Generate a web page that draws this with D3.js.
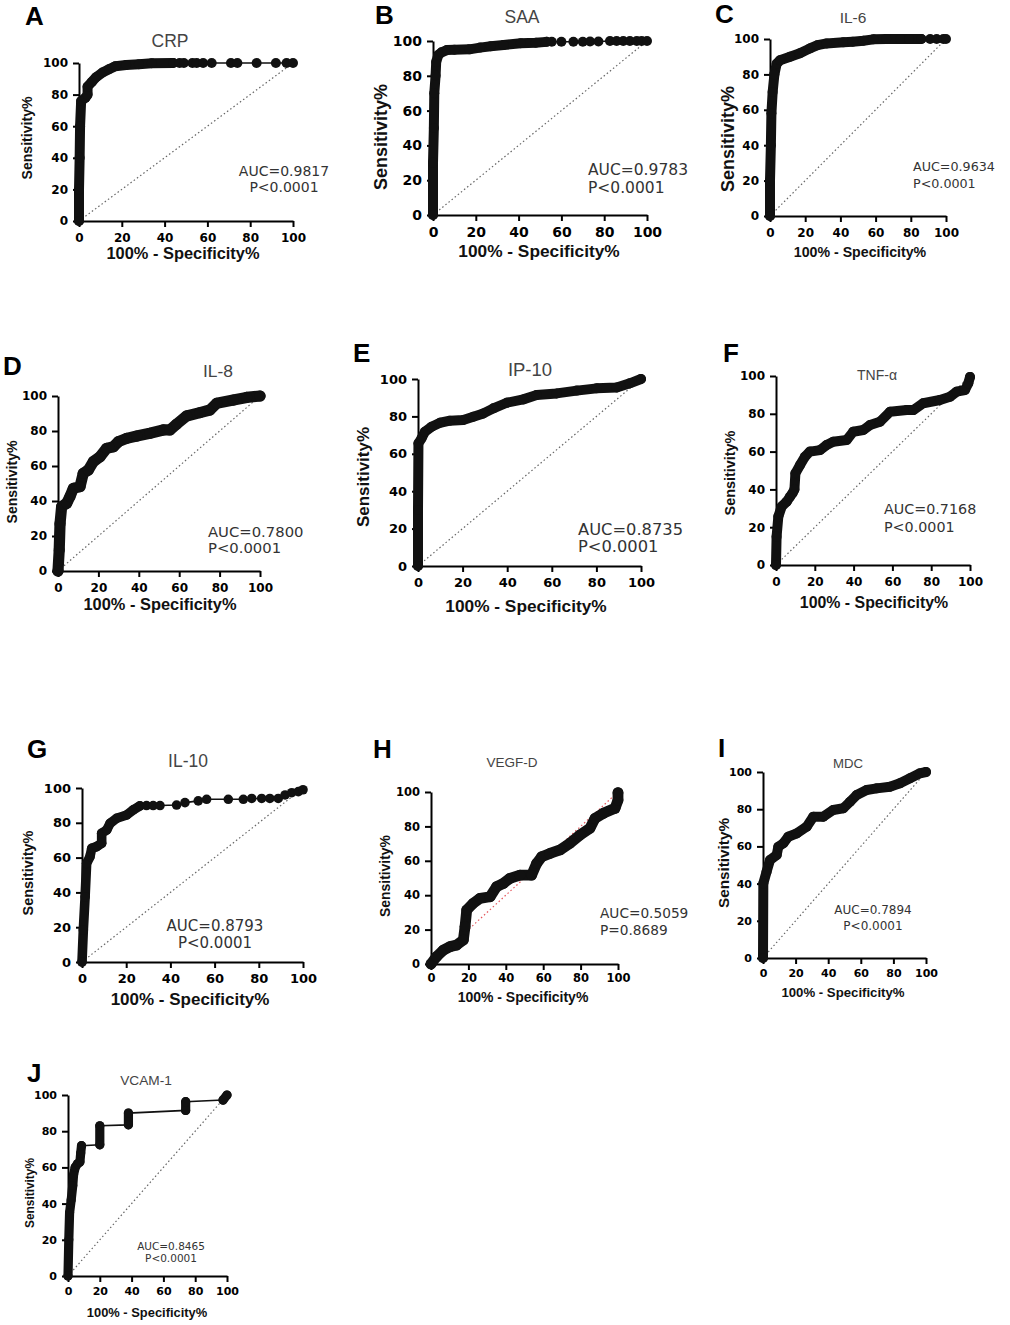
<!DOCTYPE html>
<html>
<head>
<meta charset="utf-8">
<script src="https://cdn.jsdelivr.net/npm/d3@7"></script>
<style>
  body { margin: 0; background: #fff; }
</style>
</head>
<body>
<svg id="fig" width="1010" height="1325"></svg>
<script>
// ---- data (x = 100% - Specificity%, y = Sensitivity%) ----
const panelLetters = ["A", "B", "C", "D", "E", "F", "G", "H", "I", "J"];
const markerNames = ["CRP", "SAA", "IL-6", "IL-8", "IP-10", "TNF-α", "IL-10", "VEGF-D", "MDC", "VCAM-1"];
const aucLabels = ["AUC=0.9817", "AUC=0.9783", "AUC=0.9634", "AUC=0.7800", "AUC=0.8735",
                   "AUC=0.7168", "AUC=0.8793", "AUC=0.5059", "AUC=0.7894", "AUC=0.8465"];
const pLabels = ["P<0.0001", "P<0.0001", "P<0.0001", "P<0.0001", "P<0.0001",
                 "P<0.0001", "P<0.0001", "P=0.8689", "P<0.0001", "P<0.0001"];
const xTicks = [0, 20, 40, 60, 80, 100];
const yTicks = [0, 20, 40, 60, 80, 100];
const chanceLine = [[0, 0], [100, 100]];

// points packed so close that the markers merge into one thick band
const crpBand = [[[0,0],[0,20],[0.3,40],[0.5,60],[1,76],[3,78],[4,80],[4,85],[6,88],[8,91],[11,94],[14,96],[17,98],[22,98.7],[28,99.2],[34,99.8],[44,100]]];
const crpDots = [[47,100],[49,100],[53,100],[55,100],[58,100],[62,100],[71,100],[74,100],[83,100],[92,100],[97,100],[100,100]];

const saaBand = [[[0,0],[0,30],[0.4,50],[0.6,70],[1.2,80],[1.5,88],[2.5,92],[4,93.5],[6.5,94.8],[10,95],[17,95.2],[22,96.2],[27,97],[33,97.7],[41,98.7],[48,99],[53,99.5]]];
const saaDots = [[55.5,99.6],[60,99.6],[65.6,99.6],[70,99.6],[73.4,99.7],[77.3,99.7],[82.7,100],[85.8,100],[88.9,100],[92,100],[95.2,100],[97.5,100],[100,100]];

const il6Band = [[[0,0],[0,20],[0.5,40],[0.8,58],[1.5,70],[2.5,80],[3.8,86],[5.7,88],[11.4,90],[17,91.9],[22.7,94.7],[27,96.5],[32.2,97.5],[41.7,98.1],[47,98.5],[53,99],[58.7,99.8],[66,100],[74,100],[79,100],[86,100]]];
const il6Dots = [[91,100],[94.7,100],[98.5,100],[100,100]];

const il8Band = [[[0,0],[0.6,12],[1,27],[1.8,36.8],[4.3,38.7],[5.9,42.5],[7.6,47.2],[10.9,48.2],[12.5,55.8],[15,57.7],[17.5,62.5],[20.8,65.3],[24.1,70.1],[27.4,71],[29.9,73.9],[34,75.8],[39,77.1],[45.5,78.7],[52.1,80.6],[55.4,80.6],[58.8,84],[63.7,88.6],[70.3,90.5],[75.2,92],[78.6,95.8],[86.8,97.7],[93.4,99.2],[100,100]]];
const il8Dots = [];

const ip10Band = [[[0,0],[0,30],[0.2,65.6],[1.6,68.3],[3.1,71.8],[6.1,74.5],[9.9,76.6],[14.3,77.7],[20.3,78.1],[24.8,79.8],[29.3,81.6],[33.8,84.3],[39.8,87.3],[47.2,89.1],[53.2,91.4],[62.2,92.3],[71.2,93.8],[80.1,95],[89.1,95.5],[95,97.7],[100,100]]];
const ip10Dots = [];

const tnfBand = [[[0,0],[0.3,15],[1.2,25.6],[2.9,30.9],[5.5,33.5],[7.2,36.1],[8.5,38],[9.5,40],[10,48.5],[12.4,52.9],[14.9,57.3],[17.5,60],[22.7,60.8],[26.1,63.5],[29.5,65.2],[36.4,66.1],[39.8,70.5],[45,71.4],[48.5,74.1],[53.6,75.8],[58.8,81.1],[67.4,82],[70.8,82],[75.9,85.6],[84.5,87.3],[89.7,89],[93.1,91.7],[97.4,92.6],[99.1,96.1],[100,99.5]]];
const tnfDots = [];

const il10Band = [[[0,0],[0.6,18.4],[1.4,37.5],[2.1,56.7],[3.6,60.5],[4.4,65.3],[6.6,66.3],[8.9,68.2],[8.9,74],[11.2,75.9],[12.7,79.7],[15.7,82.6],[20.2,84.5],[23.2,87.4],[26.2,89.7]]];
const il10Dots = [[29.2,89.9],[32.2,89.9],[35.3,89.9],[42.8,90.2],[46.6,91.6],[52.6,92.6],[56.4,93.5],[66.2,93.5],[73,93.5],[76.8,94],[81.3,94],[85,94],[88.8,94],[91.9,96],[94.9,97.3],[97.9,97.9],[100,99]];

const vegfBand = [[[0,0],[3,4.3],[6.6,8.1],[10.2,10.1],[13.7,11],[17.3,14],[18.2,21.7],[19.1,31.4],[22.6,35.3],[26.2,38.2],[31.6,39.1],[35.1,45],[38.7,46.9],[42.2,49.8],[47.6,51.7],[53.8,51.7],[56.5,58.5],[59.2,62.4],[63.6,64.3],[69,66.3],[74.3,70.2],[79.7,75],[85,78.9],[87.7,84.7],[92.1,87.6],[98.4,90.5],[100,95.3],[100,99.6]]];
const vegfDots = [];

const mdcBand = [[[0,0],[0.2,40.1],[2.2,46.4],[4.3,52.7],[8.4,55.4],[9.4,59.8],[12.5,61.7],[15.5,65.2],[20.7,67],[26.8,70.6],[30.9,76],[37,76],[43.1,79.6],[49.3,80.5],[53.4,84],[57.5,87.6],[63.6,90.3],[69.8,91.2],[77.9,92.1],[84,93.9],[90.2,96.6],[96.3,99.3],[100,100]]];
const mdcDots = [];

const vcamBand = [
  [[0,0],[0.5,20],[1,35],[2,42],[3,50],[3.5,56],[4.5,60],[6,62],[7.5,63],[8,68],[8.5,72]],
  [[20,72.5],[20,83]],
  [[38,83.5],[38,90]],
  [[74,91.5],[74,96.3]],
  [[97.5,97.2],[100,100]]
];
const vcamDots = [];

const curveBands = [crpBand, saaBand, il6Band, il8Band, ip10Band, tnfBand, il10Band, vegfBand, mdcBand, vcamBand];
const curveDots = [crpDots, saaDots, il6Dots, il8Dots, ip10Dots, tnfDots, il10Dots, vegfDots, mdcDots, vcamDots];

// ---- layout of each panel on the page ----
const boxes = [
  {l:79,  r:293, b:221,  t:63,   fTick:12,   pad:6, fX:16.4, fY:14.1, fTtl:17.5, fAuc:14,   mr:5,   letter:[25,25],   ttl:[170,47],   xt:[183,259],  yt:[27,138],   auc:[284,176,192,'middle']},
  {l:433, r:647, b:215,  t:41,   fTick:14,   pad:6, fX:17.3, fY:18,   fTtl:17.5, fAuc:15.5, mr:5,   letter:[375,24],  ttl:[522,23],   xt:[539,257],  yt:[381,137],  auc:[588,175,193,'start']},
  {l:770, r:946, b:216,  t:39,   fTick:12,   pad:6, fX:14.2, fY:18,   fTtl:15.5, fAuc:12.7, mr:5,   letter:[715,23],  ttl:[853,23],   xt:[860,257],  yt:[728,139],  auc:[913,171,188,'start']},
  {l:58,  r:260, b:571,  t:396,  fTick:12,   pad:6, fX:16.4, fY:14.1, fTtl:17.4, fAuc:14.8, mr:5.6, letter:[3,375],   ttl:[218,377],  xt:[160,610],  yt:[12,482],   auc:[208,537,553,'start']},
  {l:418, r:641, b:566,  t:379,  fTick:13,   pad:6, fX:17.3, fY:17,   fTtl:18.5, fAuc:16.3, mr:5,   letter:[353,362], ttl:[530,376],  xt:[526,612],  yt:[363,477],  auc:[578,535,552,'start']},
  {l:776, r:970, b:565,  t:376,  fTick:12,   pad:6, fX:15.9, fY:14.4, fTtl:14,   fAuc:14.3, mr:5,   letter:[723,362], ttl:[877,380],  xt:[874,608],  yt:[730,473],  auc:[884,514,532,'start']},
  {l:82,  r:303, b:962,  t:788,  fTick:13,   pad:6, fX:17,   fY:14.4, fTtl:17.5, fAuc:15,   mr:4.8, letter:[27,758],  ttl:[188,767],  xt:[190,1005], yt:[28,873],   auc:[215,931,948,'middle']},
  {l:431, r:618, b:964,  t:792,  fTick:11.5, pad:4, fX:14,   fY:13.9, fTtl:13.5, fAuc:13.7, mr:5.4, letter:[373,758], ttl:[512,767],  xt:[523,1002], yt:[385,876],  auc:[600,918,935,'start']},
  {l:763, r:926, b:958,  t:772,  fTick:11,   pad:5, fX:13.2, fY:15.3, fTtl:13.2, fAuc:12,   mr:5,   letter:[718,757], ttl:[848,768],  xt:[843,997],  yt:[723,863],  auc:[873,914,930,'middle']},
  {l:68,  r:227, b:1276, t:1095, fTick:11,   pad:5, fX:12.9, fY:11.9, fTtl:13.7, fAuc:10.5, mr:4.6, letter:[27,1082], ttl:[146,1085], xt:[147,1317], yt:[30,1193],  auc:[171,1250,1262,'middle']}
];

const svg = d3.select('#fig');
const ink = '#111';

boxes.forEach((bx, i) => {
  const g = svg.append('g').attr('class', 'panel');
  const x = d3.scaleLinear().domain([0, 100]).range([bx.l, bx.r]);
  const y = d3.scaleLinear().domain([0, 100]).range([bx.b, bx.t]);
  const line = d3.line().x(d => x(d[0])).y(d => y(d[1]));

  // panel letter and marker name
  g.append('text')
    .attr('x', bx.letter[0]).attr('y', bx.letter[1])
    .style('font-family', 'Liberation Sans, Arial, sans-serif')
    .style('font-weight', 'bold').style('font-size', '26px')
    .attr('fill', '#000')
    .text(panelLetters[i]);

  g.append('text')
    .attr('x', bx.ttl[0]).attr('y', bx.ttl[1])
    .attr('text-anchor', 'middle')
    .style('font-family', 'Liberation Sans, Arial, sans-serif')
    .style('font-size', bx.fTtl + 'px')
    .attr('fill', '#444')
    .text(markerNames[i]);

  // chance diagonal
  g.append('path')
    .datum(chanceLine)
    .attr('d', line)
    .attr('fill', 'none')
    .attr('stroke', i === 7 ? '#e4545a' : '#666')
    .attr('stroke-width', 1.2)
    .attr('stroke-dasharray', '1.5,2.5');

  // axes
  const xAxis = g.append('g')
    .attr('transform', `translate(0,${bx.b})`)
    .call(d3.axisBottom(x).tickValues(xTicks).tickSize(6).tickSizeOuter(0).tickPadding(bx.pad));
  const yAxis = g.append('g')
    .attr('transform', `translate(${bx.l},0)`)
    .call(d3.axisLeft(y).tickValues(yTicks).tickSize(6).tickSizeOuter(0).tickPadding(5));
  [xAxis, yAxis].forEach(ax => {
    ax.selectAll('path, line').attr('stroke', '#000').attr('stroke-width', 2);
    ax.selectAll('text')
      .style('font-family', 'DejaVu Sans, sans-serif')
      .style('font-weight', 'bold')
      .style('font-size', bx.fTick + 'px')
      .attr('fill', '#000');
  });

  // axis titles
  g.append('text')
    .attr('x', bx.xt[0]).attr('y', bx.xt[1])
    .attr('text-anchor', 'middle')
    .style('font-family', 'Liberation Sans, Arial, sans-serif')
    .style('font-weight', 'bold')
    .style('font-size', bx.fX + 'px')
    .attr('fill', '#111')
    .text('100% - Specificity%');

  g.append('text')
    .attr('transform', `translate(${bx.yt[0]},${bx.yt[1]}) rotate(-90)`)
    .attr('text-anchor', 'middle')
    .attr('dominant-baseline', 'central')
    .style('font-family', 'Liberation Sans, Arial, sans-serif')
    .style('font-weight', 'bold')
    .style('font-size', bx.fY + 'px')
    .attr('fill', '#111')
    .text('Sensitivity%');

  // ROC curve: thin connecting line, merged marker bands, then single markers
  const band = curveBands[i];
  const dots = curveDots[i];
  const allPts = band.flat().concat(dots);

  g.append('path')
    .datum(allPts)
    .attr('d', line)
    .attr('fill', 'none')
    .attr('stroke', ink)
    .attr('stroke-width', 1.6);

  band.forEach(seg => {
    g.append('path')
      .datum(seg)
      .attr('d', line)
      .attr('fill', 'none')
      .attr('stroke', ink)
      .attr('stroke-width', bx.mr * 2)
      .attr('stroke-linecap', 'round')
      .attr('stroke-linejoin', 'round');
  });

  g.selectAll('circle.pt')
    .data(allPts)
    .join('circle')
    .attr('class', 'pt')
    .attr('cx', d => x(d[0]))
    .attr('cy', d => y(d[1]))
    .attr('r', bx.mr)
    .attr('fill', ink);

  // AUC and P value, one text line each
  [aucLabels[i], pLabels[i]].forEach((label, k) => {
    g.append('text')
      .attr('x', bx.auc[0])
      .attr('y', bx.auc[1 + k])
      .attr('text-anchor', bx.auc[3])
      .style('font-family', 'DejaVu Sans, sans-serif')
      .style('font-size', bx.fAuc + 'px')
      .attr('fill', '#333')
      .text(label);
  });
});
</script>
</body>
</html>
